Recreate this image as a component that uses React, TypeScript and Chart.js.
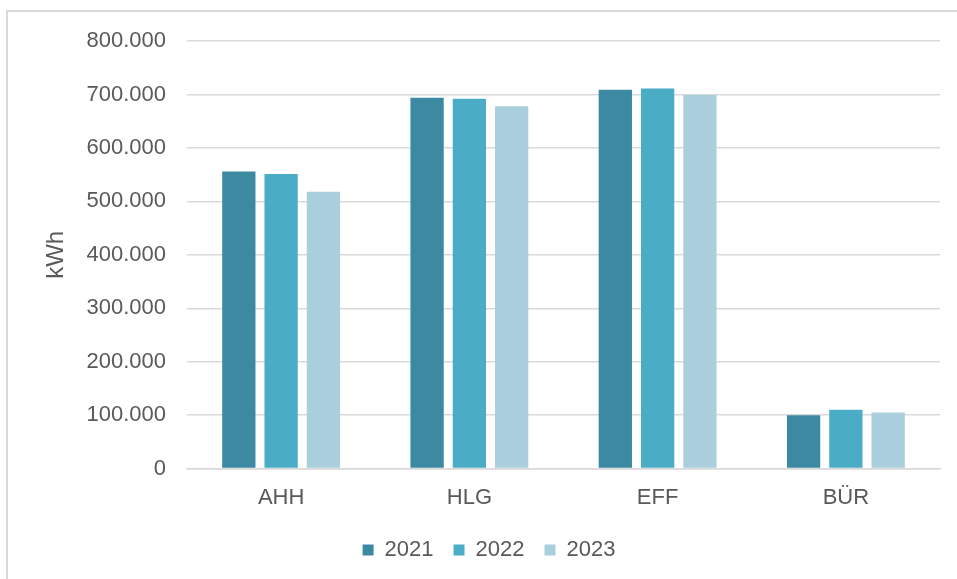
import { useEffect, useRef } from 'react';
import { Chart, registerables } from 'chart.js';

Chart.register(...registerables);

const SITES = ['AHH', 'HLG', 'EFF', 'BÜR'];
const YEARS = ['2021', '2022', '2023'];
const KWH_2021 = [556000, 694000, 709000, 100000];
const KWH_2022 = [551000, 692000, 711000, 110000];
const KWH_2023 = [518000, 678000, 699000, 105000];
const COLORS = ['#3c8aa1', '#4bacc6', '#a9cfdc'];

const TEXT = '#595959';
const FONT = 'Arial, "Liberation Sans", sans-serif';

function dotted(n: number) {
  return String(Math.round(n)).replace(/\B(?=(\d{3})+(?!\d))/g, '.');
}

export default function App() {
  const canvasRef = useRef<HTMLCanvasElement>(null);

  useEffect(() => {
    if (!canvasRef.current) return;
    const series = [KWH_2021, KWH_2022, KWH_2023];
    const chart = new Chart(canvasRef.current, {
      type: 'bar',
      data: {
        labels: SITES,
        datasets: YEARS.map((y, i) => ({
          label: y,
          data: series[i],
          backgroundColor: COLORS[i],
          borderWidth: 0,
          categoryPercentage: 0.674,
          barPercentage: 0.787,
        })),
      },
      options: {
        animation: false,
        responsive: false,
        layout: { padding: { left: 38, top: 41, right: 17, bottom: 8 } },
        scales: {
          x: {
            afterFit: (s) => { s.height = s.height - 9; },
            grid: { display: false, drawTicks: false },
            border: { display: true, color: '#d9d9d9', width: 1.5 },
            ticks: { color: TEXT, font: { family: FONT, size: 22 }, padding: 16.5 },
          },
          y: {
            min: 0,
            max: 800000,
            afterFit: (s) => { s.width = 187 - 38; },
            grid: { color: '#d9d9d9', lineWidth: 1.5, drawTicks: false },
            border: { display: false },
            ticks: {
              stepSize: 100000,
              color: TEXT,
              font: { family: FONT, size: 22 },
              padding: 21,
              callback: (v) => dotted(Number(v)),
            },
            title: {
              display: true,
              text: 'kWh',
              color: TEXT,
              font: { family: FONT, size: 24 },
            },
          },
        },
        plugins: {
          legend: {
            position: 'bottom',
            labels: {
              boxWidth: 11,
              boxHeight: 11,
              padding: 20,
              color: TEXT,
              font: { family: FONT, size: 22 },
            },
          },
          tooltip: { enabled: false },
        },
      },
    });
    return () => chart.destroy();
  }, []);

  return (
    <div style={{ position: 'fixed', left: 0, top: 0, width: 957, height: 579, background: '#fff', overflow: 'hidden' }}>
      <div style={{ position: 'absolute', left: 6, top: 10, width: 970, height: 590, border: '2px solid #d9d9d9' }} />
      <canvas ref={canvasRef} width={957} height={579} style={{ position: 'absolute', left: 0, top: 0 }} />
    </div>
  );
}
